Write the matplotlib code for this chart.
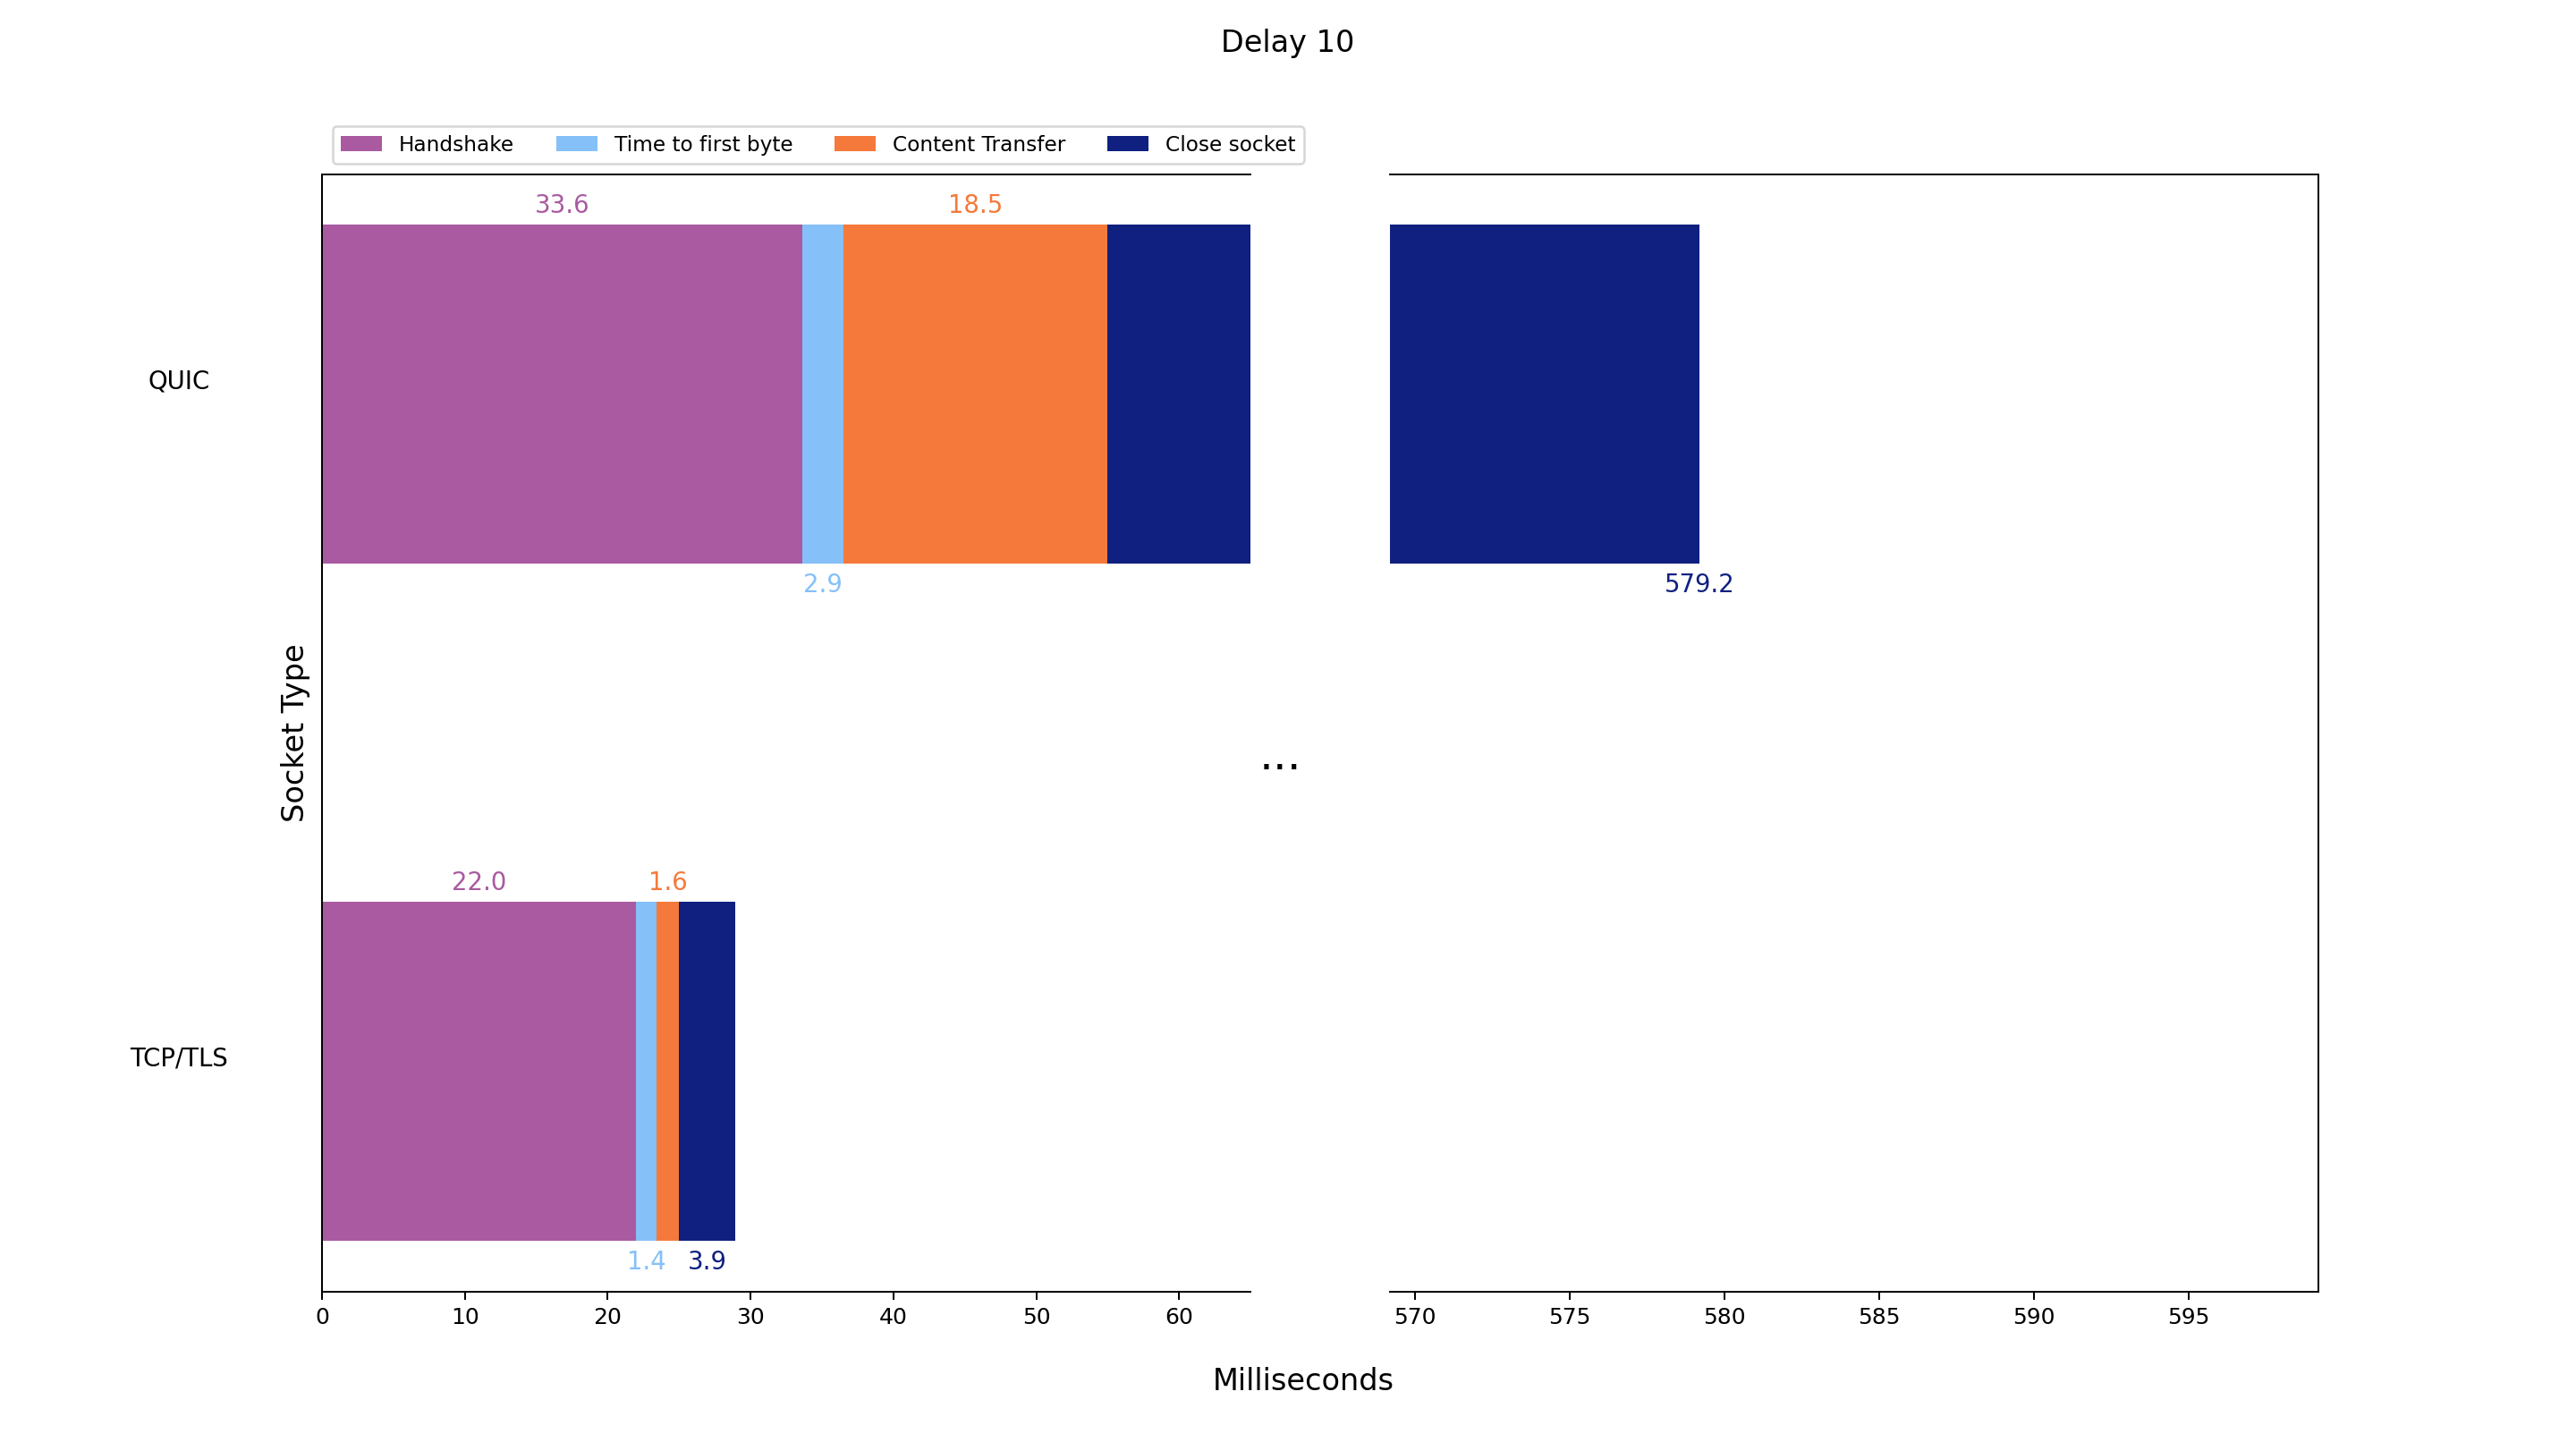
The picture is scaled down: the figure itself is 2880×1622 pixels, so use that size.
import matplotlib.pyplot as plt

sockets = ['TCP/TLS', 'QUIC']
handshake = [22.0, 33.6]
first_byte = [1.4, 2.9]
transfer = [1.6, 18.5]
close = [3.9, 524.2]

phases = ['Handshake', 'Time to first byte', 'Content Transfer', 'Close socket']
colors = ['#A95AA1', '#85C0F9', '#F5793A', '#0F2080']

left_lim = (0, 65)
right_lim = (569.2, 599.2)

fig, (ax1, ax2) = plt.subplots(1, 2, figsize=(16, 1622 / 180), dpi=180,
                               gridspec_kw={'wspace': 0.15})

y = list(range(len(sockets)))
left = [0.0] * len(sockets)
for i, vals in enumerate([handshake, first_byte, transfer, close]):
    for ax in (ax1, ax2):
        ax.barh(y, vals, left=left, height=0.5, color=colors[i], label=phases[i])
    # labels alternate above / below the bars
    above = i % 2 == 0
    for j, v in enumerate(vals):
        mid = left[j] + v / 2
        if mid <= left_lim[1]:
            ax, x, txt = ax1, mid, f'{v:.1f}'
        else:
            # middle of the segment falls in the break: label the end instead
            ax, x, txt = ax2, left[j] + v, f'{left[j] + v:.1f}'
        ax.annotate(txt, (x, j + (0.25 if above else -0.25)),
                    xytext=(0, 3 if above else -4), textcoords='offset points',
                    ha='center', va='bottom' if above else 'top',
                    color=colors[i], fontsize=11)
    left = [l + v for l, v in zip(left, vals)]

ax1.set_xlim(*left_lim)
ax2.set_xlim(*right_lim)
ax2.set_ylim(ax1.get_ylim())

ax1.spines['right'].set_visible(False)
ax2.spines['left'].set_visible(False)
ax2.tick_params(axis='y', left=False, labelleft=False)

ax1.set_yticks(y, sockets)
ax1.tick_params(axis='y', length=0, pad=64, labelsize=11)
for t in ax1.get_yticklabels():
    t.set_ha('center')
    t.set_va('bottom')

ax1.legend(loc='lower left', bbox_to_anchor=(0, 1), ncol=4, fontsize=9.3)

fig.suptitle('Delay 10', fontsize=13.4)
fig.text(0.506, 0.048, 'Milliseconds', ha='center', va='center', fontsize=13.4)
fig.text(0.1148, 0.495, 'Socket Type', rotation=90, ha='center', va='center', fontsize=13.4)
fig.text(0.497, 0.47, '...', ha='center', fontsize=20)

fig.savefig('out.png')
